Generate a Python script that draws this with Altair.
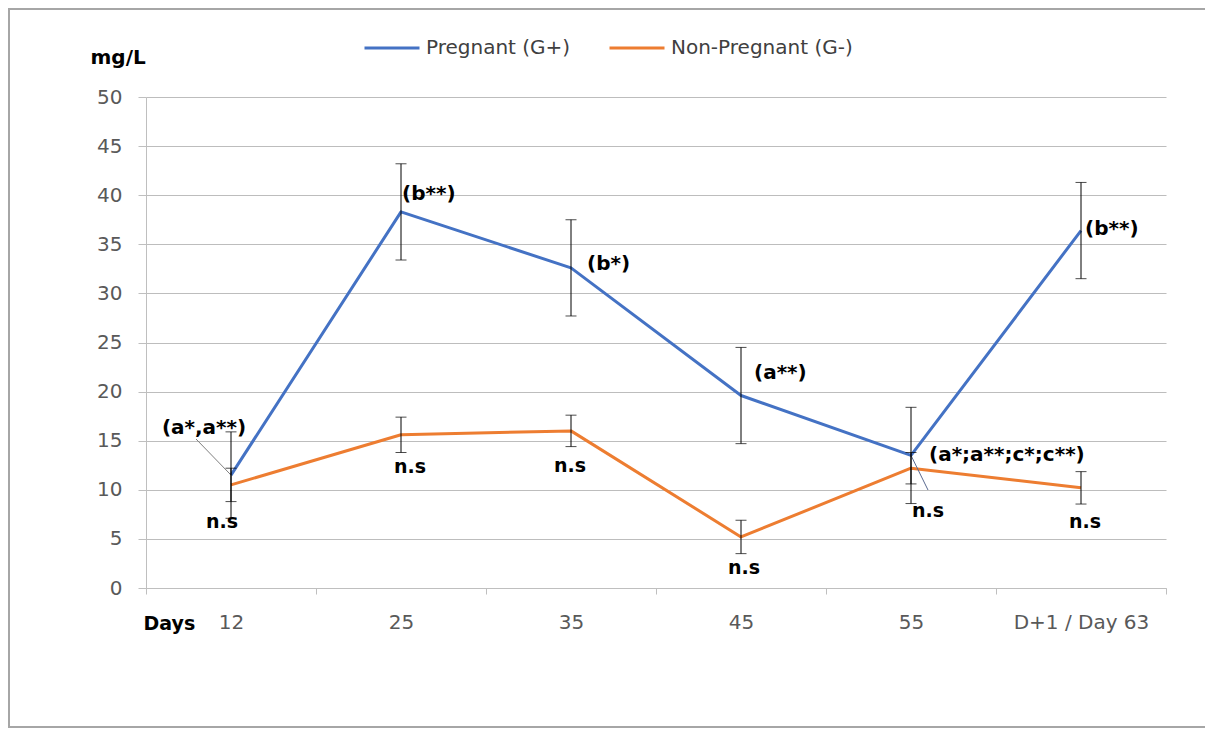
import altair as alt
import pandas as pd

days = ["12", "25", "35", "45", "55", "D+1 / Day 63"]
series = ["Pregnant (G+)", "Non-Pregnant (G-)"]
preg = [11.5, 38.3, 32.6, 19.6, 13.5, 36.4]
preg_sd = [4.4, 4.9, 4.9, 4.9, 4.9, 4.9]
nonpreg = [10.5, 15.6, 16.0, 5.2, 12.2, 10.2]
nonpreg_sd = [1.7, 1.8, 1.6, 1.7, 1.6, 1.65]
preg_notes = ["(a*,a**)", "(b**)", "(b*)", "(a**)", "(a*;a**;c*;c**)", "(b**)"]
nonpreg_notes = ["n.s", "n.s", "n.s", "n.s", "n.s", "n.s"]

colors = ["#4472C4", "#ED7D31"]
FONT = "DejaVu Sans"

rows = []
for i, d in enumerate(days):
    rows.append({"day": d, "series": series[0], "value": preg[i],
                 "lo": preg[i] - preg_sd[i], "hi": preg[i] + preg_sd[i],
                 "note": preg_notes[i], "idx": i})
    rows.append({"day": d, "series": series[1], "value": nonpreg[i],
                 "lo": nonpreg[i] - nonpreg_sd[i], "hi": nonpreg[i] + nonpreg_sd[i],
                 "note": nonpreg_notes[i], "idx": i})
df = pd.DataFrame(rows)

xscale = alt.Scale(type="band", domain=days, paddingInner=0, paddingOuter=0)
yscale = alt.Scale(domain=[0, 50], nice=False)

x_axis = alt.Axis(
    title="Days", tickBand="extent", ticks=True, tickSize=6, tickColor="#bfbfbf",
    domainColor="#bfbfbf", labelAngle=0, labelFont=FONT, labelFontSize=20,
    labelColor="#595959", labelPadding=18, grid=False,
    titleFont=FONT, titleFontSize=19, titleFontWeight="bold", titleColor="#000000",
    titleX=-3, titleY=35, titleAlign="left", titleBaseline="middle", titleAnchor="start",
)
y_axis = alt.Axis(
    title="mg/L", values=list(range(0, 51, 5)), grid=True, gridColor="#bdbdbd",
    domainColor="#bfbfbf", tickSize=8, tickColor="#bfbfbf", labelFont=FONT,
    labelFontSize=20, labelColor="#595959", labelPadding=16,
    titleFont=FONT, titleFontSize=20, titleFontWeight="bold", titleColor="#000000",
    titleAngle=0, titleX=-56, titleY=-40, titleAlign="left", titleBaseline="middle",
    titleAnchor="start",
)

base = alt.Chart(df)

lines = base.mark_line(strokeWidth=3, strokeJoin="round").encode(
    x=alt.X("day:N", scale=xscale, sort=days, axis=x_axis),
    y=alt.Y("value:Q", scale=yscale, axis=y_axis),
    color=alt.Color("series:N", scale=alt.Scale(domain=series, range=colors),
                    sort=series,
                    legend=alt.Legend(title=None, orient="none", legendX=217, legendY=-78,
                                      direction="horizontal", symbolType="stroke",
                                      symbolSize=3025, symbolStrokeWidth=3,
                                      labelFont=FONT, labelFontSize=20, labelColor="#404040",
                                      labelLimit=400, columnPadding=32, labelOffset=5)),
    order=alt.Order("idx:Q"),
    detail="series:N",
)

err = base.mark_rule(color="#000000", strokeWidth=1).encode(
    x=alt.X("day:N", scale=xscale, sort=days),
    y=alt.Y("lo:Q", scale=yscale),
    y2="hi:Q",
)
cap_lo = base.mark_tick(color="#000000", size=11, thickness=1).encode(
    x=alt.X("day:N", scale=xscale, sort=days),
    y=alt.Y("lo:Q", scale=yscale),
)
cap_hi = base.mark_tick(color="#000000", size=11, thickness=1).encode(
    x=alt.X("day:N", scale=xscale, sort=days),
    y=alt.Y("hi:Q", scale=yscale),
)

# annotation offsets (dx, dy, align) per category
preg_off = [(-27, -47, "center"), (1, -18, "left"), (16, -4, "left"),
            (13, -23, "left"), (18, 0, "left"), (4, -2, "left")]
non_off = [(-9, 37), (9, 32), (-1, 35), (3, 31), (17, 43), (4, 34)]

notes = []
for i, d in enumerate(days):
    dx, dy, al = preg_off[i]
    notes.append(
        alt.Chart(df).transform_filter(
            (alt.datum.series == series[0]) & (alt.datum.idx == i)
        ).mark_text(font=FONT, fontSize=20, fontWeight="bold", color="#000000",
                    dx=dx, dy=dy, align=al, baseline="middle").encode(
            x=alt.X("day:N", scale=xscale, sort=days),
            y=alt.Y("value:Q", scale=yscale),
            text="note:N",
        )
    )
    dx2, dy2 = non_off[i]
    notes.append(
        alt.Chart(df).transform_filter(
            (alt.datum.series == series[1]) & (alt.datum.idx == i)
        ).mark_text(font=FONT, fontSize=19, fontWeight="bold", color="#000000",
                    dx=dx2, dy=dy2, align="center", baseline="middle").encode(
            x=alt.X("day:N", scale=xscale, sort=days),
            y=alt.Y("value:Q", scale=yscale),
            text="note:N",
        )
    )

# leader lines from data points to their labels
lead1 = alt.Chart(df).transform_filter(
    (alt.datum.series == series[0]) & (alt.datum.idx == 0)
).mark_rule(color="#7f7f7f", strokeWidth=1).encode(
    x=alt.X("day:N", scale=xscale, sort=days),
    y=alt.Y("value:Q", scale=yscale),
    x2=alt.value(50), y2=alt.value(342),
)
lead2 = alt.Chart(df).transform_filter(
    (alt.datum.series == series[0]) & (alt.datum.idx == 4)
).mark_rule(color="#5a6a90", strokeWidth=1).encode(
    x=alt.X("day:N", scale=xscale, sort=days),
    y=alt.Y("value:Q", scale=yscale),
    x2=alt.value(782), y2=alt.value(393),
)

frame = alt.Chart(pd.DataFrame({"k": [0]})).mark_rect(
    fillOpacity=0, stroke="#a6a6a6", strokeWidth=2
).encode(
    x=alt.value(-137), x2=alt.value(1200), y=alt.value(-88), y2=alt.value(630)
)

chart = alt.layer(frame, lines, lead1, lead2, err, cap_lo, cap_hi, *notes).properties(
    width=1020, height=491,
    padding={"left": 138, "top": 89, "right": 39, "bottom": 140},
    autosize=alt.AutoSizeParams(type="none"),
    background="#ffffff",
).configure_view(stroke=None)

chart.save("out.html", embed_options={"renderer": "svg", "actions": False})
